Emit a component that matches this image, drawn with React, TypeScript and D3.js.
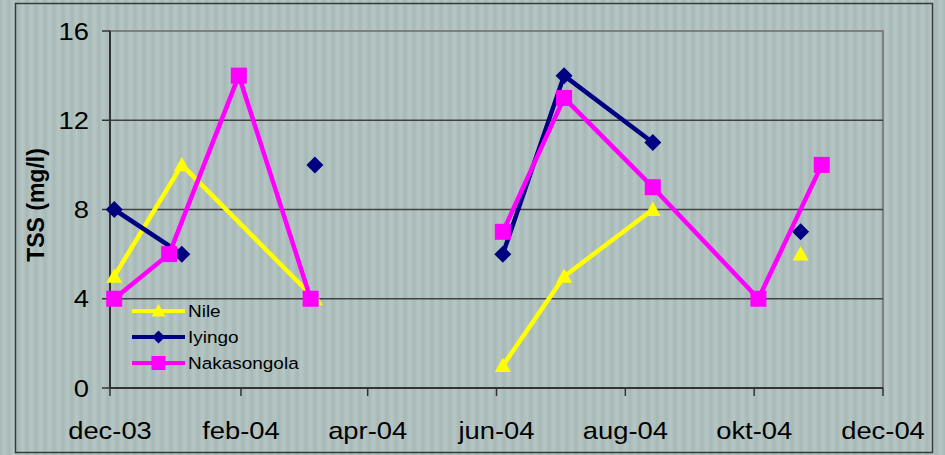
import React from "react";
import * as d3 from "d3";

const W = 945;
const H = 455;

const xTickDates = ["2003-12-01", "2004-02-01", "2004-04-01", "2004-06-01", "2004-08-01", "2004-10-01", "2004-12-01"];
const xTickLabels = ["dec-03", "feb-04", "apr-04", "jun-04", "aug-04", "okt-04", "dec-04"];
const yTicks = [0, 4, 8, 12, 16];

// null = break in the line
const nileDates = ["2003-12-03", "2004-01-04", "2004-03-07", null, "2004-06-04", "2004-07-03", "2004-08-14", null, "2004-10-23"];
const nileValues = [5, 10, 4, null, 1, 5, 8, null, 6];

const iyingoDates = ["2003-12-03", "2004-01-04", null, "2004-03-07", null, "2004-06-04", "2004-07-03", "2004-08-14", null, "2004-10-23"];
const iyingoValues = [8, 6, null, 10, null, 6, 14, 11, null, 7];

const nakaDates = ["2003-12-03", "2003-12-29", "2004-01-31", "2004-03-05", null, "2004-06-04", "2004-07-03", "2004-08-14", "2004-10-03", "2004-11-02"];
const nakaValues = [4, 6, 14, 4, null, 7, 13, 9, 4, 10];

const seriesNames = ["Nile", "Iyingo", "Nakasongola"];
const seriesColors = ["#FFFF00", "#000080", "#FF00FF"];
const seriesShapes = ["triangle", "diamond", "square"];

type Pt = { d: Date | null; v: number | null };
const build = (ds: (string | null)[], vs: (number | null)[]): Pt[] =>
  ds.map((s, i) => ({ d: s ? new Date(s + "T00:00:00Z") : null, v: vs[i] }));

const series = [
  build(nileDates, nileValues),
  build(iyingoDates, iyingoValues),
  build(nakaDates, nakaValues),
];

const plot = { left: 110, right: 883, top: 31, bottom: 388 };

const x = d3
  .scaleUtc()
  .domain([new Date("2003-12-01T00:00:00Z"), new Date("2004-12-01T00:00:00Z")])
  .range([plot.left, plot.right]);
const y = d3.scaleLinear().domain([0, 16]).range([plot.bottom, plot.top]);

const FONT = "Liberation Sans, Arial, sans-serif";

function Marker({ shape, cx, cy, size, color }: { shape: string; cx: number; cy: number; size: number; color: string }) {
  if (shape === "square") {
    return <rect x={cx - size / 2} y={cy - size / 2} width={size} height={size} fill={color} />;
  }
  if (shape === "diamond") {
    const r = size / 2;
    return <path d={`M${cx},${cy - r}L${cx + r},${cy}L${cx},${cy + r}L${cx - r},${cy}Z`} fill={color} />;
  }
  const r = size / 2;
  return <path d={`M${cx},${cy - r}L${cx + r},${cy + r * 0.8}L${cx - r},${cy + r * 0.8}Z`} fill={color} />;
}

function SText({ x0, y0, sx, children, anchor, size, weight }: any) {
  return (
    <text
      transform={`translate(${x0},${y0}) scale(${sx},1)`}
      textAnchor={anchor}
      fontSize={size}
      fontFamily={FONT}
      fontWeight={weight || "normal"}
      fill="#000"
    >
      {children}
    </text>
  );
}

export default function App() {
  const line = d3
    .line<Pt>()
    .defined((p) => p.d !== null && p.v !== null)
    .x((p) => x(p.d as Date))
    .y((p) => y(p.v as number));

  const markerSizes = [16, 17, 16];
  const legendY = [311, 337, 363];

  return (
    <div style={{ position: "absolute", left: 0, top: 0 }}>
      <svg width={W} height={H} style={{ display: "block" }}>
        <defs>
          <linearGradient id="stripeGrad" x1="0" x2="1" y1="0" y2="0">
            <stop offset="0" stopColor="#a7b9b7" />
            <stop offset="0.5" stopColor="#b6c6c4" />
            <stop offset="1" stopColor="#a7b9b7" />
          </linearGradient>
          <pattern id="stripes" width={9} height={10} patternUnits="userSpaceOnUse">
            <rect width={9} height={10} fill="url(#stripeGrad)" />
          </pattern>
        </defs>
        <rect x={0} y={0} width={W} height={H} fill="url(#stripes)" />
        <rect x={15.5} y={3.5} width={917} height={449} fill="none" stroke="#3a3a3a" strokeWidth={1.5} />

        {/* plot border */}
        <rect x={plot.left} y={plot.top} width={plot.right - plot.left} height={plot.bottom - plot.top} fill="none" stroke="#7f7f7f" strokeWidth={2} />

        {/* gridlines */}
        {yTicks.filter((t) => t > 0 && t < 16).map((t) => (
          <line key={t} x1={plot.left} x2={plot.right} y1={y(t)} y2={y(t)} stroke="#404040" strokeWidth={1.5} />
        ))}

        {/* axes */}
        <line x1={plot.left} x2={plot.left} y1={plot.top} y2={plot.bottom} stroke="#333" strokeWidth={2} />
        <line x1={plot.left} x2={plot.right} y1={plot.bottom} y2={plot.bottom} stroke="#333" strokeWidth={2} />
        {yTicks.map((t) => (
          <g key={t}>
            <line x1={plot.left - 8} x2={plot.left} y1={y(t)} y2={y(t)} stroke="#333" strokeWidth={1.5} />
            <SText x0={89} y0={y(t) + 8.5} sx={1.14} anchor="end" size={24}>
              {t}
            </SText>
          </g>
        ))}
        {xTickDates.map((ds, i) => {
          const xx = x(new Date(ds + "T00:00:00Z"));
          return (
            <g key={ds}>
              <line x1={xx} x2={xx} y1={plot.bottom} y2={plot.bottom + 8} stroke="#333" strokeWidth={1.5} />
              <SText x0={xx} y0={439} sx={1.14} anchor="middle" size={24}>
                {xTickLabels[i]}
              </SText>
            </g>
          );
        })}

        <text
          transform={`translate(44,205) rotate(-90)`}
          textAnchor="middle"
          fontSize={23}
          fontWeight="bold"
          fontFamily={FONT}
          fill="#000"
        >
          TSS (mg/l)
        </text>

        {/* series */}
        {series.map((s, i) => (
          <g key={i}>
            <path d={line(s) || ""} fill="none" stroke={seriesColors[i]} strokeWidth={4.5} strokeLinejoin="round" />
            {s
              .filter((p) => p.d !== null && p.v !== null)
              .map((p, j) => (
                <Marker key={j} shape={seriesShapes[i]} cx={x(p.d as Date)} cy={y(p.v as number)} size={markerSizes[i]} color={seriesColors[i]} />
              ))}
          </g>
        ))}

        {/* legend */}
        {seriesNames.map((n, i) => (
          <g key={n}>
            <line x1={132} x2={185} y1={legendY[i]} y2={legendY[i]} stroke={seriesColors[i]} strokeWidth={4} />
            <Marker shape={seriesShapes[i]} cx={158.5} cy={legendY[i]} size={i === 1 ? 13 : 14} color={seriesColors[i]} />
            <SText x0={188} y0={legendY[i] + 6} sx={1.15} anchor="start" size={16.5}>
              {n}
            </SText>
          </g>
        ))}
      </svg>
    </div>
  );
}
